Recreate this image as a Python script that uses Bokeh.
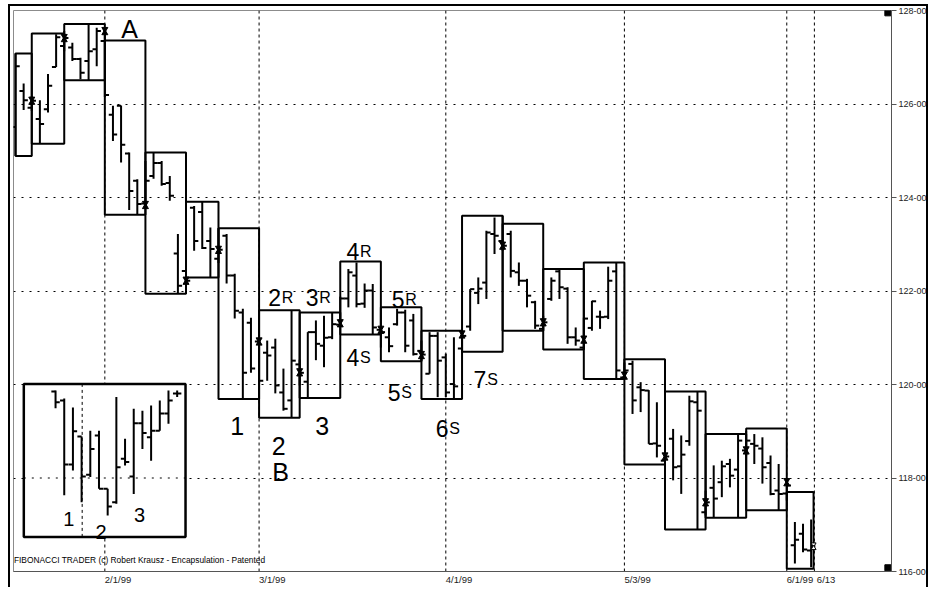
from bokeh.plotting import figure
from bokeh.models import FixedTicker, Range1d
from bokeh.embed import file_html
from bokeh.resources import INLINE
from bokeh.core.properties import value

FONT = "Liberation Sans"
PX_PER_BAR = 8.12
PX_PER_PT = 46.8

# ---------------- daily OHLC bars (bar index 0 .. 98) ----------------
highs = [127.08, 126.44, 126.17, 126.08, 126.64, 127.49, 127.56, 127.31, 126.99, 127.71,
         127.63, 127.63, 125.96, 125.97, 124.96, 124.39, 124.78, 124.96, 124.78, 124.46,
         123.22, 123.18, 123.82, 123.91, 123.36, 123.34, 123.22, 122.37, 121.62, 121.43,
         120.94, 120.94, 120.98, 120.34, 121.59, 120.53, 121.12, 121.37, 121.47, 121.54,
         121.88, 122.47, 122.61, 122.16, 122.15, 121.22, 121.22, 121.62, 121.60, 121.51,
         120.94, 121.12, 121.12, 120.66, 121.01, 121.07, 122.04, 122.29, 123.29, 123.57,
         123.61, 123.29, 122.61, 122.26, 121.79, 121.47, 122.29, 122.47, 122.08, 121.22,
         121.43, 121.79, 121.58, 122.52, 122.61, 120.47, 120.51, 120.05, 119.88, 119.62,
         118.59, 119.05, 118.91, 119.76, 119.85, 117.73, 118.27, 118.37, 118.41, 118.94,
         119.01, 118.94, 118.87, 118.48, 118.30, 117.95, 117.06, 117.02, 117.11]
lows = [124.89, 125.87, 125.85, 125.15, 125.82, 126.79, 127.13, 126.92, 126.53, 126.51,
        126.81, 126.15, 125.21, 124.75, 123.73, 123.63, 123.82, 124.40, 124.25, 123.93,
        121.94, 122.01, 122.86, 122.90, 122.29, 122.60, 122.16, 121.41, 119.69, 120.25,
        120.02, 120.08, 119.81, 119.44, 119.29, 119.98, 119.72, 120.52, 120.37, 120.97,
        121.28, 121.65, 121.65, 121.64, 121.07, 120.79, 120.69, 121.26, 120.69, 120.62,
        120.51, 120.23, 119.73, 119.73, 119.69, 120.70, 121.15, 121.72, 121.83, 122.79,
        122.86, 122.29, 122.11, 121.65, 121.19, 121.15, 121.79, 121.83, 120.87, 120.83,
        120.75, 121.15, 121.19, 121.40, 120.12, 120.13, 119.37, 119.41, 118.73, 118.44,
        118.29, 117.95, 117.66, 118.69, 116.90, 117.20, 117.16, 117.59, 117.80, 117.15,
        118.48, 118.30, 117.88, 117.63, 117.31, 117.52, 116.17, 116.41, 116.09]
opens = [125.51, 126.28, 125.92, 125.68, 125.89, 126.79, 127.24, 127.21, 126.96, 126.92,
         127.17, 127.35, 125.77, 125.96, 124.94, 124.36, 123.87, 124.46, 124.74, 124.31,
         122.80, 122.43, 123.78, 123.69, 123.07, 122.69, 123.18, 122.33, 121.54, 121.32,
         120.92, 120.68, 120.79, 119.83, 119.66, 120.43, 120.06, 121.12, 120.83, 121.01,
         121.28, 121.84, 122.33, 121.73, 122.01, 121.17, 121.01, 121.29, 121.54, 121.37,
         120.72, 120.23, 121.04, 120.58, 120.01, 120.77, 121.24, 121.96, 122.18, 123.22,
         123.07, 123.22, 122.40, 122.22, 121.76, 121.19, 121.83, 122.42, 122.05, 121.01,
         120.79, 121.21, 121.45, 121.45, 122.42, 120.15, 120.44, 119.94, 119.87, 118.74,
         118.37, 118.84, 118.25, 118.79, 119.62, 117.27, 117.79, 117.91, 118.30, 118.18,
         118.59, 118.73, 118.63, 118.32, 117.73, 117.67, 116.56, 116.81, 116.45]
closes = [126.81, 126.08, 126.07, 125.57, 126.39, 127.43, 127.41, 126.96, 126.67, 127.13,
          127.56, 126.19, 125.35, 125.13, 124.14, 123.86, 124.36, 124.74, 124.29, 124.04,
          122.11, 122.22, 123.07, 122.92, 122.90, 122.88, 122.33, 121.58, 120.25, 120.34,
          120.08, 120.62, 119.98, 119.48, 120.51, 120.25, 121.12, 120.87, 121.00, 121.29,
          121.84, 122.40, 121.72, 122.01, 121.22, 121.12, 120.82, 121.54, 120.83, 120.65,
          120.64, 121.04, 120.51, 119.83, 119.96, 121.04, 122.04, 122.05, 123.25, 123.18,
          122.97, 122.43, 122.22, 121.90, 121.26, 121.33, 122.22, 122.08, 121.01, 120.94,
          121.41, 121.78, 121.44, 122.22, 120.30, 120.30, 119.66, 119.88, 118.73, 118.69,
          118.46, 118.23, 118.50, 119.64, 119.44, 117.48, 117.56, 118.25, 118.05, 118.80,
          118.80, 118.69, 118.23, 117.66, 117.66, 117.84, 116.68, 116.47, 116.54]

# ---------------- encapsulation boxes ----------------
box_start = [0, 2, 6, 11, 16, 21, 25, 30, 35, 40, 45, 50, 55, 60, 65, 70, 75, 80, 85, 90, 95]
box_end = [2, 6, 11, 16, 21, 25, 30, 35, 40, 45, 50, 55, 60, 65, 70, 75, 80, 85, 90, 95, 98.3]
box_top = [127.08, 127.51, 127.71, 127.36, 124.96, 123.91, 123.34, 121.59, 121.54, 122.63,
           121.65, 121.15, 123.61, 123.44, 122.47, 122.61, 120.54, 119.85, 118.94, 119.06, 117.70]
box_bottom = [124.89, 125.15, 126.51, 123.63, 121.94, 122.29, 119.69, 119.29, 119.71, 121.07,
              120.50, 119.69, 120.70, 121.15, 120.75, 120.12, 118.29, 116.90, 117.15, 117.31, 116.06]

# ---------------- box-change markers ----------------
star_x = [2, 6, 11, 16, 21, 25, 30, 35, 40, 45, 50, 55, 60, 65, 70, 75, 80, 85, 90, 95]
star_y = [126.07, 127.41, 127.56, 123.84, 122.22, 122.88, 120.92, 120.26, 121.31, 121.17,
          120.63, 121.07, 122.97, 121.33, 120.96, 120.19, 118.46, 117.48, 118.59, 117.91]
last_mark_x = [98.3]
last_mark_y = [116.54]

# ---------------- axes ----------------
date_pos = [11, 30, 53, 75, 95, 98.4]
date_labels = ["2/1/99", "3/1/99", "4/1/99", "5/3/99", "6/1/99", "6/13"]
date_gap_px = [0, 0, 0, 0, 0, 2.5]
price_ticks = [116, 118, 120, 122, 124, 126, 128]
price_labels = ["116-00", "118-00", "120-00", "122-00", "124-00", "126-00", "128-00"]
grid_prices = [118, 120, 122, 124, 126]

# ---------------- wave annotations ----------------
wave_digits = ["2", "3", "4", "5", "4", "5", "6", "7"]
wave_suffix = ["R", "R", "R", "R", "S", "S", "S", "S"]
wave_x = [32.70, 37.32, 42.33, 47.91, 42.33, 47.41, 53.33, 58.0]
wave_y = [121.86, 121.86, 122.85, 121.81, 120.58, 119.83, 119.05, 120.10]
big_text = ["A", "1", "2", "3", "B"]
big_x = [14.06, 27.30, 32.43, 37.77, 32.64]
big_y = [127.60, 119.12, 118.69, 119.12, 118.12]

# ---------------- inset example ----------------
inset_high = [119.87, 119.70, 119.51, 118.89, 119.01, 119.01, 117.77, 119.73, 118.84, 119.48,
              119.44, 119.55, 119.66, 119.87, 119.87]
inset_low = [119.49, 117.63, 118.16, 117.48, 118.02, 117.77, 117.20, 117.45, 118.27, 117.66,
             118.62, 118.37, 119.01, 119.16, 119.73]
inset_open = [119.85, 119.66, 118.29, 118.89, 118.07, 118.91, 117.77, 117.48, 118.41, 118.03,
              119.17, 118.87, 119.01, 119.38, 119.81]
inset_close = [119.62, 118.29, 119.00, 118.03, 118.62, 117.77, 117.39, 118.23, 118.34, 119.17,
               118.96, 119.01, 119.38, 119.66, 119.81]
inset_text = ["1", "2", "3"]
inset_text_x = [6.56, 10.53, 15.27]
inset_text_y = [117.13, 116.84, 117.20]
footer = "FIBONACCI TRADER (c) Robert Krausz - Encapsulation - Patented"

# ======================================================================
tick_w = 4.2 / PX_PER_BAR

p = figure(width=920, height=583, x_range=Range1d(-0.25, 107.9), y_range=Range1d(116, 128),
           output_backend="svg", toolbar_location=None, y_axis_location="right",
           min_border_left=3, min_border_top=4, min_border_right=39, min_border_bottom=18,
           background_fill_color="white", border_fill_color="white",
           outline_line_color="#8c8c8c", outline_line_width=1)
p.styles = {"margin-left": "8px", "margin-top": "4px",
            "border-top": "2px solid black", "border-left": "2px solid black",
            "border-right": "2px solid black"}

# x axis: labels start at their date line
def label_width_px(s, fs=9.5):
    return sum(0.278 if c == "/" else 0.556 for c in s) * fs

label_pos = [round(d + (label_width_px(l) / 2 + g) / PX_PER_BAR, 3)
             for d, l, g in zip(date_pos, date_labels, date_gap_px)]
p.xaxis.ticker = FixedTicker(ticks=label_pos)
p.xaxis.major_label_overrides = {pos: lab for pos, lab in zip(label_pos, date_labels)}
p.xaxis.major_tick_line_color = None
p.xaxis.major_tick_out = 0
p.xaxis.major_tick_in = 0
p.xaxis.minor_tick_line_color = None
p.xaxis.minor_tick_out = 0
p.xaxis.axis_line_color = "#555555"
p.xaxis.major_label_text_font = FONT
p.xaxis.major_label_text_font_size = "9.5px"
p.xaxis.major_label_text_color = "#222222"
p.xaxis.major_label_standoff = 2

p.yaxis.ticker = FixedTicker(ticks=price_ticks)
p.yaxis.major_label_overrides = {t: l for t, l in zip(price_ticks, price_labels)}
p.yaxis.major_tick_out = 5
p.yaxis.major_tick_in = 0
p.yaxis.major_tick_line_color = "#555555"
p.yaxis.minor_tick_line_color = None
p.yaxis.minor_tick_out = 0
p.yaxis.axis_line_color = "#555555"
p.yaxis.major_label_text_font = FONT
p.yaxis.major_label_text_font_size = "9px"
p.yaxis.major_label_text_color = "#222222"
p.yaxis.major_label_standoff = 2

p.xgrid.visible = False
p.ygrid.ticker = FixedTicker(ticks=grid_prices)
p.ygrid.grid_line_color = "black"
p.ygrid.grid_line_dash = "2 6"
p.ygrid.grid_line_width = 1

# date lines
p.segment(x0=date_pos, y0=[116] * len(date_pos), x1=date_pos, y1=[128] * len(date_pos),
          line_color="black", line_width=1, line_dash="3 3")

# inset example panel (drawn over the grid)
ins_l, ins_r, ins_t, ins_b = 1.02, 20.94, 120.01, 116.74
p.quad(left=[ins_l], right=[ins_r], top=[ins_t], bottom=[ins_b], fill_color="white",
       line_color=None)
p.segment(x0=[ins_l], y0=[118], x1=[ins_r], y1=[118], line_color="black", line_dash="2 6")
p.segment(x0=[8.21], y0=[ins_b], x1=[8.21], y1=[ins_t], line_color="black", line_dash="3 3")
ix = [4.93 + 1.07 * k for k in range(len(inset_high))]
p.segment(x0=ix, y0=inset_low, x1=ix, y1=inset_high, line_color="black", line_width=2)
p.segment(x0=[x - tick_w for x in ix], y0=inset_open, x1=ix, y1=inset_open,
          line_color="black", line_width=2)
p.segment(x0=ix, y0=inset_close, x1=[x + tick_w for x in ix], y1=inset_close,
          line_color="black", line_width=2)
p.quad(left=[ins_l], right=[ins_r], top=[ins_t], bottom=[ins_b], fill_color=None,
       line_color="black", line_width=2.5)
p.text(x=inset_text_x, y=inset_text_y, text=inset_text, text_font=value(FONT),
       text_font_size=value("20px"), text_align="center", text_baseline="alphabetic",
       text_color="black")

# boxes
p.quad(left=box_start, right=box_end, top=box_top, bottom=box_bottom, fill_color=None,
       line_color="black", line_width=2)

# OHLC bars
bx = list(range(len(highs)))
p.segment(x0=bx, y0=lows, x1=bx, y1=highs, line_color="black", line_width=2)
p.segment(x0=[x - tick_w for x in bx], y0=opens, x1=bx, y1=opens, line_color="black", line_width=2)
p.segment(x0=bx, y0=closes, x1=[x + tick_w for x in bx], y1=closes, line_color="black", line_width=2)

# hourglass markers
d = 1.9 / PX_PER_PT
p.scatter(x=star_x, y=[y + d for y in star_y], marker="inverted_triangle", size=6,
          fill_color="black", line_color="black")
p.scatter(x=star_x, y=[y - d for y in star_y], marker="triangle", size=6,
          fill_color="black", line_color="black")
p.scatter(x=last_mark_x, y=[y + d for y in last_mark_y], marker="inverted_triangle", size=5,
          fill_color="white", line_color="black", line_width=1)
p.scatter(x=last_mark_x, y=[y - d for y in last_mark_y], marker="triangle", size=5,
          fill_color="white", line_color="black", line_width=1)

# corner squares
p.scatter(x=[107.45, 107.45], y=[127.95, 116.08], marker="square", size=6,
          fill_color="black", line_color="black")

# annotations
p.text(x=big_x, y=big_y, text=big_text, text_font=value(FONT), text_font_size=value("25px"),
       text_align="center", text_baseline="alphabetic", text_color="black")
p.text(x=wave_x, y=wave_y, text=wave_digits, text_font=value(FONT),
       text_font_size=value("23px"), text_align="right", text_baseline="alphabetic",
       text_color="black")
p.text(x=[x + 0.1 for x in wave_x], y=wave_y, text=wave_suffix, text_font=value(FONT),
       text_font_size=value("16px"), text_align="left", text_baseline="alphabetic",
       text_color="black")
p.text(x=[-0.2], y=[116.25], text=[footer], text_font=value(FONT),
       text_font_size=value("8.4px"), text_align="left", text_baseline="alphabetic",
       text_color="black")

open("out.html", "w").write(file_html(p, INLINE))
